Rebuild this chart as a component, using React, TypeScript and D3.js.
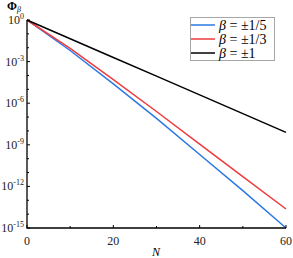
import React, { useRef, useEffect } from "react";
import * as d3 from "d3";

const nValues = [0, 10, 20, 30, 40, 50, 60];
// log10(Phi_beta) for each series
const betaFifth = [0, -2.2, -4.6, -7.1, -9.7, -12.3, -15.0];
const betaThird = [0, -2.05, -4.3, -6.6, -8.95, -11.3, -13.63];
const betaOne = [0, -1.35, -2.7, -4.05, -5.4, -6.75, -8.1];

const seriesLabels = ["β = ±1/5", "β = ±1/3", "β = ±1"];
const seriesColors = ["#2a78e4", "#ee3a3f", "#000000"];

const xTicks = [0, 20, 40, 60];
const xMinor = [10, 30, 50];
const yTicks = [0, -3, -6, -9, -12, -15];
const yMinor = [-1, -2, -4, -5, -7, -8, -10, -11, -13, -14];

function App() {
  const chartRef = useRef(null);

  useEffect(() => {
    d3.select(chartRef.current).selectAll("*").remove();
    const svg = d3.select(chartRef.current);
    const font = "Liberation Serif, Times New Roman, serif";

    const x = d3.scaleLinear().domain([0, 60]).range([27, 286]);
    const y = d3.scaleLinear().domain([0, -15]).range([20, 228]);

    const allSeries = [betaFifth, betaThird, betaOne];

    const line = d3
      .line<[number, number]>()
      .x((d) => x(d[0]))
      .y((d) => y(d[1]));

    allSeries.forEach((s, i) => {
      svg
        .append("path")
        .attr("d", line(nValues.map((n, j) => [n, s[j]] as [number, number])))
        .attr("fill", "none")
        .attr("stroke", seriesColors[i])
        .attr("stroke-width", 1.5);
    });

    // axes lines
    svg
      .append("path")
      .attr("d", `M${x(0)},${y(0)}V${y(-15)}H${x(60)}`)
      .attr("fill", "none")
      .attr("stroke", "#000")
      .attr("stroke-width", 1.3);

    // y ticks (inward)
    yTicks.forEach((t) => {
      svg.append("line")
        .attr("x1", x(0)).attr("x2", x(0) + 3)
        .attr("y1", y(t)).attr("y2", y(t))
        .attr("stroke", "#000").attr("stroke-width", 1);
      const txt = svg.append("text")
        .attr("x", 24)
        .attr("y", y(t) + 4)
        .attr("text-anchor", "end")
        .attr("font-family", font)
        .attr("font-size", 12)
        .attr("fill", "#222");
      txt.append("tspan").text("10");
      txt.append("tspan")
        .attr("dy", -5)
        .attr("font-size", 8)
        .text(t === 0 ? "0" : `-${-t}`);
    });
    yMinor.forEach((t) => {
      svg.append("line")
        .attr("x1", x(0)).attr("x2", x(0) + 2)
        .attr("y1", y(t)).attr("y2", y(t))
        .attr("stroke", "#000").attr("stroke-width", 1);
    });

    // x ticks (inward)
    xTicks.forEach((t) => {
      svg.append("line")
        .attr("x1", x(t)).attr("x2", x(t))
        .attr("y1", y(-15)).attr("y2", y(-15) - 3)
        .attr("stroke", "#000").attr("stroke-width", 1);
      svg.append("text")
        .attr("x", x(t))
        .attr("y", 245)
        .attr("text-anchor", "middle")
        .attr("font-family", font)
        .attr("font-size", 12)
        .attr("fill", "#222")
        .text(t);
    });
    xMinor.forEach((t) => {
      svg.append("line")
        .attr("x1", x(t)).attr("x2", x(t))
        .attr("y1", y(-15)).attr("y2", y(-15) - 2)
        .attr("stroke", "#000").attr("stroke-width", 1);
    });

    // axis titles
    svg.append("text")
      .attr("x", 156)
      .attr("y", 256)
      .attr("text-anchor", "middle")
      .attr("font-family", font)
      .attr("font-size", 12)
      .attr("font-style", "italic")
      .text("N");

    const yt = svg.append("text")
      .attr("x", 7)
      .attr("y", 10)
      .attr("font-family", font)
      .attr("font-size", 12);
    yt.append("tspan").attr("font-weight", "bold").text("Φ");
    yt.append("tspan")
      .attr("dy", 2)
      .attr("font-size", 8)
      .attr("font-style", "italic")
      .text("β");

    // legend
    svg.append("rect")
      .attr("x", 190.5).attr("y", 17.5)
      .attr("width", 84).attr("height", 43)
      .attr("fill", "#fff")
      .attr("stroke", "#a6a6a6")
      .attr("stroke-width", 1);
    seriesLabels.forEach((lab, i) => {
      const ly = 25 + i * 14;
      svg.append("line")
        .attr("x1", 191).attr("x2", 215)
        .attr("y1", ly).attr("y2", ly)
        .attr("stroke", seriesColors[i])
        .attr("stroke-width", 1.5);
      const t = svg.append("text")
        .attr("x", 219)
        .attr("y", ly + 5)
        .attr("font-family", font)
        .attr("font-size", 14);
      const [b, rest] = lab.split(" = ");
      t.append("tspan").attr("font-style", "italic").text(b);
      t.append("tspan").text(" = " + rest);
    });
  }, []);

  return (
    <svg
      ref={chartRef}
      width={293}
      height={258}
      style={{ position: "absolute", left: 0, top: 0, background: "#fff" }}
    ></svg>
  );
}

export default App;
